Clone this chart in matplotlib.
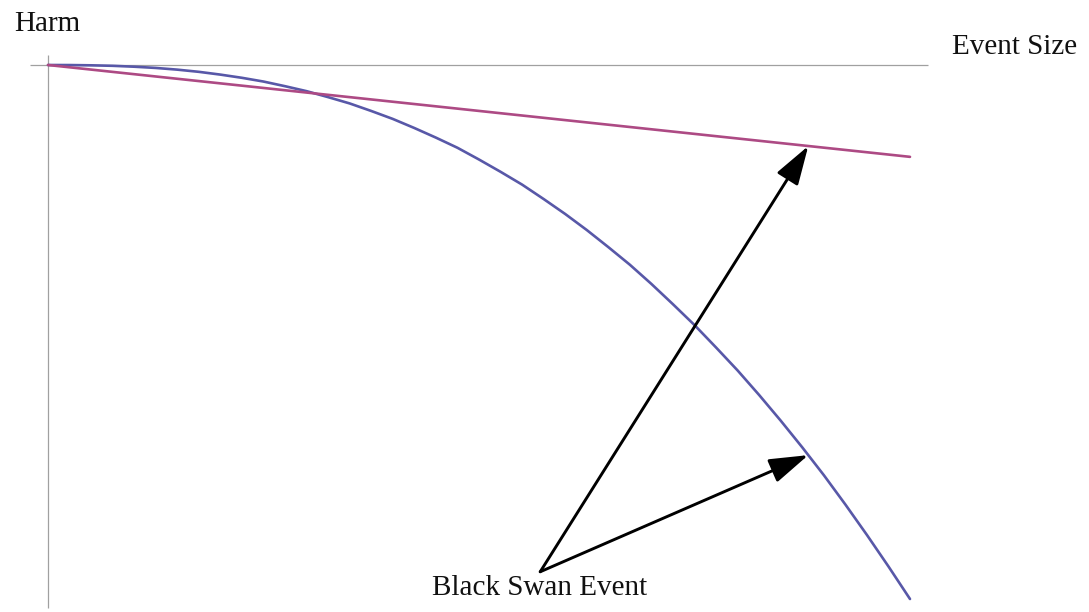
import matplotlib
matplotlib.use("Agg")
import matplotlib.pyplot as plt
import numpy as np

# Data (event size vs harm)
event_size = [0.0, 0.25, 0.5, 0.75, 1.0, 1.25, 1.5, 1.75, 2.0, 2.25, 2.5, 2.75,
              3.0, 3.25, 3.5, 3.75, 4.0, 4.25, 4.5, 4.75, 5.0, 5.25, 5.5, 5.75,
              6.0, 6.25, 6.5, 6.75, 7.0, 7.25, 7.5, 7.75, 8.0, 8.25, 8.5, 8.75,
              9.0, 9.25, 9.5, 9.75, 10.0]
harm_convex = [0.0, -0.001, -0.006, -0.015, -0.032, -0.055, -0.087, -0.128, -0.18, -0.24,
               -0.31, -0.397, -0.49, -0.602, -0.72, -0.861, -1.01, -1.18, -1.36, -1.55,
               -1.77, -2.00, -2.24, -2.51, -2.79, -3.09, -3.41, -3.74, -4.10, -4.48,
               -4.87, -5.29, -5.72, -6.18, -6.66, -7.16, -7.68, -8.23, -8.80, -9.39, -10.0]
linear_x = [0.0, 10.0]
harm_linear = [0.0, -1.72]

arrow_event_x = 8.82
label_point = (5.71, -9.49)

W, H = 1089, 612
fig = plt.figure(figsize=(W / 100, H / 100), dpi=100)
ax = fig.add_axes([0, 0, 1, 1])
ax.set_axis_off()

# pixel mapping: x=0 -> px 48, x=10 -> px 910 ; y=0 -> py 65, 53.4 px per unit
sx = 86.2
sy = 53.4
ax.set_xlim(-48 / sx, (W - 48) / sx)
ax.set_ylim(-(H - 65) / sy, 65 / sy)

axis_col = "#a0a0a0"
ax.hlines(0, -18 / sx, 880 / sx, color=axis_col, lw=0.9)
ax.vlines(0, -(608 - 65) / sy, 10 / sy, color=axis_col, lw=0.9)

blue = "#5858a8"
red = "#ad4a84"
ax.plot(event_size, harm_convex, color=blue, lw=1.9, solid_capstyle="round")
ax.plot(linear_x, harm_linear, color=red, lw=1.9, solid_capstyle="round")

tip_red = (arrow_event_x, np.interp(arrow_event_x, linear_x, harm_linear))
tip_blue = (arrow_event_x, np.interp(arrow_event_x, event_size, harm_convex))
for tip in (tip_red, tip_blue):
    ax.annotate("", xy=tip, xytext=label_point,
                arrowprops=dict(arrowstyle="-|>,head_length=1.2,head_width=0.38",
                                mutation_scale=20, color="black", lw=2.1,
                                shrinkA=0, shrinkB=0))

font = dict(family="Liberation Serif", size=21, color="#111111")
fig.text(14 / W, 1 - 31 / H, "Harm", ha="left", va="baseline", **font)
fig.text(952 / W, 1 - 54 / H, "Event Size", ha="left", va="baseline", **font)
fig.text(432 / W, 1 - 595 / H, "Black Swan Event", ha="left", va="baseline", **font)

fig.savefig("out.png", dpi=100, facecolor="white")
